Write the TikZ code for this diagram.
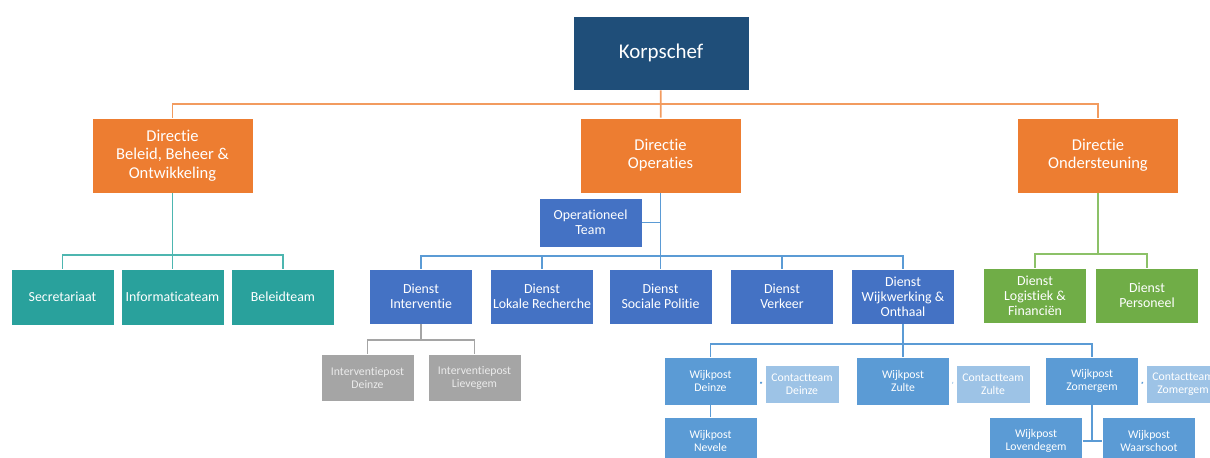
\documentclass[tikz,border=0pt]{standalone}
\usepackage{fontspec}
\setmainfont{Carlito}[Ligatures=NoCommon]
\usepackage{tikz}
\usetikzlibrary{positioning, calc}

\definecolor{korpsblue}{HTML}{1F4E79}
\definecolor{dirorange}{HTML}{ED7D31}
\definecolor{teamteal}{HTML}{29A19C}
\definecolor{dienstblue}{HTML}{4472C4}
\definecolor{dienstgreen}{HTML}{70AD47}
\definecolor{postgray}{HTML}{A5A5A5}
\definecolor{wijkblue}{HTML}{5B9BD5}
\definecolor{contactblue}{HTML}{9DC3E6}
\definecolor{orangeline}{HTML}{F29B5F}
\definecolor{tealline}{HTML}{4DB6B0}
\definecolor{greenline}{HTML}{8CC168}

\begin{document}
\begin{tikzpicture}[
    x=0.75pt, y=-0.75pt,
    box/.style={draw=white, line width=0.5pt, text=white, align=center, inner sep=1pt},
    chefbox/.style={box, fill=korpsblue, minimum width=132pt, minimum height=55.5pt, font=\fontsize{15.7}{18}\selectfont},
    dirbox/.style={box, fill=dirorange, minimum width=120.75pt, minimum height=56.25pt, font=\fontsize{12.4}{13.7}\selectfont},
    teambox/.style={box, fill=teamteal, minimum width=77.25pt, minimum height=42pt, font=\fontsize{10.4}{11.3}\selectfont},
    dienstbox/.style={box, fill=dienstblue, minimum width=77.25pt, minimum height=41.25pt, font=\fontsize{10.4}{11.3}\selectfont},
    steunbox/.style={dienstbox, fill=dienstgreen},
    postbox/.style={box, fill=postgray, text=white!92!black, minimum width=69.75pt, minimum height=35.25pt, font=\fontsize{8.8}{9.75}\selectfont},
    wijkbox/.style={box, fill=wijkblue, minimum width=69.75pt, minimum height=36pt, font=\fontsize{8.8}{9.75}\selectfont},
    contactbox/.style={box, fill=contactblue, minimum width=55.5pt, minimum height=28.5pt, font=\fontsize{8.8}{9.75}\selectfont},
    link/.style={line width=1.3pt}
]
\useasboundingbox (0,0) rectangle (1210,457);
\clip (0,0) rectangle (1210,457);

% Top
\node[chefbox] (korps) at (661,53) {Korpschef};

% Directies
\node[dirbox] (dirbbo) at (172.5,155.5) {Directie\\Beleid, Beheer \&\\Ontwikkeling};
\node[dirbox] (dirops) at (660.5,155.5) {Directie\\Operaties};
\node[dirbox] (dirond) at (1098,155.5) {Directie\\Ondersteuning};

% Beleid, Beheer & Ontwikkeling
\node[teambox] (secr) at (62.5,297) {Secretariaat};
\node[teambox] (info) at (172.5,297) {Informaticateam};
\node[teambox] (beleid) at (283,297) {Beleidteam};

% Operaties
\node[dienstbox, minimum height=36.75pt] (opteam) at (590.5,222.5) {Operationeel\\Team};
\node[dienstbox] (interv) at (421,296.5) {Dienst\\Interventie};
\node[dienstbox] (recherche) at (542,296.5) {Dienst\\Lokale Recherche};
\node[dienstbox] (sociaal) at (660.5,296.5) {Dienst\\Sociale Politie};
\node[dienstbox] (verkeer) at (782,296.5) {Dienst\\Verkeer};
\node[dienstbox] (wijk) at (903,296.5) {Dienst\\Wijkwerking \&\\Onthaal};

% Ondersteuning
\node[steunbox] (logist) at (1035,295.5) {Dienst\\Logistiek \&\\Financiën};
\node[steunbox] (perso) at (1147,295.5) {Dienst\\Personeel};

% Interventieposten
\node[postbox] (ipdeinze) at (367.5,377.5) {Interventiepost\\Deinze};
\node[postbox] (iplieve) at (474.5,377.5) {Interventiepost\\Lievegem};

% Wijkposten
\node[wijkbox] (wpdeinze) at (710.5,381) {Wijkpost\\Deinze};
\node[contactbox] (ctdeinze) at (802,384) {Contactteam\\Deinze};
\node[wijkbox] (wpzulte) at (903,381) {Wijkpost\\Zulte};
\node[contactbox] (ctzulte) at (993,384) {Contactteam\\Zulte};
\node[wijkbox] (wpzomer) at (1092,381) {Wijkpost\\Zomergem};
\node[contactbox] (ctzomer) at (1183,384) {Contactteam\\Zomergem};
\node[wijkbox] (wpnevele) at (710.5,441) {Wijkpost\\Nevele};
\node[wijkbox] (wplovend) at (1036,441) {Wijkpost\\Lovendegem};
\node[wijkbox] (wpwaar) at (1149,441) {Wijkpost\\Waarschoot};

% Connections
\draw[link, orangeline] (korps) -- (dirops);
\draw[link, orangeline] (dirbbo.north) -- ++(0,-14) -| (dirond.north);

\draw[link, tealline] (dirbbo) -- (info);
\draw[link, tealline] (secr.north) -- ++(0,-14) -| (beleid.north);

\draw[link, wijkblue] (dirops) -- (sociaal);
\draw[link, wijkblue] (opteam.east) -- (opteam.east -| dirops.south);
\draw[link, wijkblue] (interv.north) -- ++(0,-13) -| (wijk.north);
\draw[link, wijkblue] (recherche.north) -- ++(0,-13);
\draw[link, wijkblue] (verkeer.north) -- ++(0,-13);

\draw[link, greenline] (dirond.south) -- ++(0,61);
\draw[link, greenline] (logist.north) -- ++(0,-14) -| (perso.north);

\draw[link, postgray] (interv.south) -- ++(0,15);
\draw[link, postgray] (ipdeinze.north) -- ++(0,-14) -| (iplieve.north);

\draw[link, wijkblue] (wijk) -- (wpzulte);
\draw[link, wijkblue] (wpdeinze.north) -- ++(0,-13) -| (wpzomer.north);
\draw[link, wijkblue, shorten <=2pt, shorten >=2pt] (wpdeinze) -- (ctdeinze);
\draw[link, wijkblue, shorten <=2pt, shorten >=2pt] (wpzulte) -- (ctzulte);
\draw[link, wijkblue, shorten <=2pt, shorten >=2pt] (wpzomer) -- (ctzomer);
\draw[link, wijkblue] (wpdeinze) -- (wpnevele);
\draw[link, wijkblue] (wpzomer.south) |- (wplovend.east);
\draw[link, wijkblue] (wplovend) -- (wpwaar);

\end{tikzpicture}
\end{document}
